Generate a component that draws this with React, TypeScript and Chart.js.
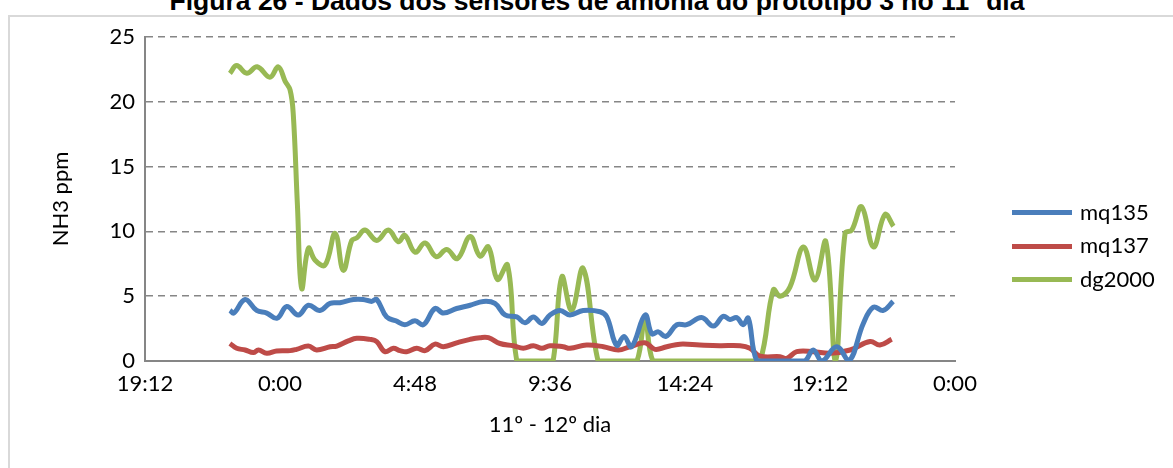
import React, { useEffect, useRef } from "react";
import { Chart, registerables } from "chart.js";

Chart.register(...registerables);

// ---- data (time in hours from 0:00 of day 11; >24 = day 12) ----
const titleText = "Figura 26 - Dados dos sensores de amônia do protótipo 3 no 11º dia";
const xTitle = "11º - 12º dia";
const yTitle = "NH3 ppm";
const xTickValues = [19.2, 24, 28.8, 33.6, 38.4, 43.2, 48];

const seriesNames = ["mq135", "mq137", "dg2000"];
const seriesColors = ["#4a7ebb", "#be4b48", "#98b954"];

const mq135Times = [22.22, 22.36, 22.76, 23.17, 23.53, 23.9, 24.24, 24.65, 25.01, 25.42, 25.78, 26.13, 26.61, 26.96, 27.26, 27.44, 27.79, 28.12, 28.44, 28.8, 29.1, 29.51, 29.81, 30.28, 30.76, 31.23, 31.64, 32.0, 32.42, 32.71, 33.01, 33.31, 33.6, 33.96, 34.31, 34.78, 35.38, 35.62, 35.97, 36.23, 36.5, 36.98, 37.22, 37.45, 37.72, 38.11, 38.46, 38.99, 39.41, 39.76, 40.0, 40.24, 40.47, 40.65, 40.96, 41.42, 41.9, 42.4, 42.67, 42.96, 43.27, 43.79, 44.23, 44.74, 45.1, 45.45, 45.8];
const mq135Values = [3.9, 3.7, 4.75, 3.9, 3.7, 3.3, 4.2, 3.55, 4.3, 3.9, 4.45, 4.5, 4.75, 4.75, 4.6, 4.75, 3.4, 3.1, 2.8, 3.1, 2.8, 4.05, 3.7, 4.05, 4.3, 4.6, 4.45, 3.55, 3.4, 2.95, 3.4, 2.9, 3.55, 3.9, 3.55, 3.9, 3.8, 3.4, 1.2, 1.9, 1.1, 3.55, 2.1, 2.25, 1.9, 2.8, 2.8, 3.35, 2.7, 3.45, 3.2, 3.35, 2.8, 3.3, 0, 0, 0, 0, 0, 0.85, 0, 1.1, 0, 2.9, 4.15, 3.9, 4.6];

const mq137Times = [22.22, 22.46, 22.76, 23.05, 23.23, 23.53, 23.88, 24.36, 24.59, 25.01, 25.3, 25.78, 26.02, 26.43, 26.73, 27.2, 27.44, 27.73, 28.03, 28.27, 28.5, 28.86, 29.16, 29.51, 29.81, 30.28, 30.76, 31.11, 31.41, 31.82, 32.3, 32.65, 33.01, 33.31, 33.6, 34.07, 34.31, 34.9, 35.5, 36.03, 36.44, 36.98, 37.33, 37.75, 38.22, 38.93, 39.64, 40.36, 40.71, 41.07, 41.78, 42.02, 42.37, 42.96, 43.56, 44.27, 44.98, 45.33, 45.75];
const mq137Values = [1.35, 0.98, 0.85, 0.65, 0.85, 0.6, 0.77, 0.8, 0.9, 1.15, 0.85, 1.1, 1.15, 1.55, 1.75, 1.67, 1.5, 0.72, 0.98, 0.8, 0.72, 0.98, 0.8, 1.3, 1.1, 1.4, 1.67, 1.8, 1.8, 1.35, 1.18, 0.98, 1.18, 0.98, 1.18, 1.1, 0.98, 1.23, 1.1, 0.85, 1.1, 1.4, 0.9, 1.1, 1.3, 1.23, 1.18, 1.18, 0.98, 0.38, 0.33, 0.2, 0.72, 0.72, 0.6, 0.85, 1.5, 1.23, 1.67];

const dg2000Times = [22.22, 22.46, 22.82, 23.19, 23.64, 23.94, 24.18, 24.36, 24.47, 24.62, 24.77, 25.01, 25.24, 25.6, 25.96, 26.25, 26.55, 26.73, 27.02, 27.44, 27.85, 28.21, 28.44, 28.8, 29.16, 29.55, 29.93, 30.31, 30.76, 31.11, 31.41, 31.73, 32.09, 32.42, 32.71, 33.0, 33.24, 33.5, 33.71, 34.02, 34.37, 34.78, 35.31, 35.6, 36.0, 36.35, 36.69, 36.98, 37.26, 37.7, 38.2, 38.7, 39.2, 39.7, 40.2, 40.7, 41.07, 41.54, 41.78, 42.13, 42.61, 43.02, 43.41, 43.75, 44.09, 44.33, 44.68, 45.1, 45.51, 45.81];
const dg2000Values = [22.2, 22.8, 22.2, 22.7, 21.9, 22.7, 21.6, 20.9, 19.1, 12.0, 5.6, 8.7, 7.8, 7.4, 9.85, 7.0, 9.3, 9.5, 10.1, 9.3, 10.1, 9.2, 9.7, 8.4, 9.1, 8.05, 8.6, 7.9, 9.6, 8.1, 8.8, 6.3, 7.4, 0, 0, 0, 0, 0, 0, 6.5, 3.9, 7.15, 0, 0, 0, 0, 0, 3.3, 0, 0, 0, 0, 0, 0, 0, 0, 0, 5.5, 5.0, 5.7, 8.8, 6.25, 9.2, 0, 9.85, 10.1, 11.9, 8.8, 11.3, 10.4];

const seriesTimes = [mq135Times, mq137Times, dg2000Times];
const seriesValues = [mq135Values, mq137Values, dg2000Values];

const FONT = "Lato, 'DejaVu Sans', sans-serif";
const FONT_SIZE = 22;
const AXIS_GRAY = "#868686";

function fmtTime(v: number): string {
  const total = Math.round(v * 60) % 1440;
  const h = Math.floor(total / 60);
  const m = total % 60;
  return `${h}:${m < 10 ? "0" : ""}${m}`;
}

export default function App() {
  const ref = useRef<HTMLCanvasElement | null>(null);

  useEffect(() => {
    if (!ref.current) return;
    const font = { family: FONT, size: FONT_SIZE };
    const chart = new Chart(ref.current, {
      type: "line",
      data: {
        datasets: seriesNames.map((name, i) => ({
          label: name,
          data: seriesTimes[i].map((t, j) => ({ x: t, y: seriesValues[i][j] })),
          borderColor: seriesColors[i],
          backgroundColor: seriesColors[i],
          borderWidth: 5,
          pointRadius: 0,
          tension: 0.4,
          fill: false,
        })),
      },
      options: {
        animation: false,
        responsive: false,
        maintainAspectRatio: false,
        layout: { padding: { left: 0, right: 218, top: 37, bottom: 0 } },
        plugins: { legend: { display: false }, tooltip: { enabled: false } },
        scales: {
          x: {
            type: "linear",
            min: 19.2,
            max: 48,
            afterBuildTicks: (s: any) => {
              s.ticks = xTickValues.map((v) => ({ value: v }));
            },
            afterFit: (s: any) => {
              s.height = 107;
            },
            grid: { display: false, drawTicks: false },
            border: { display: true, color: AXIS_GRAY, width: 2 },
            ticks: {
              padding: 10,
              color: "#000",
              font,
              maxRotation: 0,
              autoSkip: false,
              callback: (v: any) => fmtTime(Number(v)),
            },
            title: {
              display: true,
              text: xTitle,
              color: "#000",
              font,
              padding: { top: 0, bottom: 30 },
            },
          },
          y: {
            min: 0,
            max: 25,
            afterFit: (s: any) => {
              s.width = 145;
            },
            grid: { color: AXIS_GRAY, lineWidth: 1.5, drawTicks: false },
            border: { display: true, color: AXIS_GRAY, width: 2, dash: [7, 5] },
            ticks: { stepSize: 5, padding: 10, color: "#000", font },
            title: {
              display: true,
              text: yTitle,
              color: "#000",
              font,
              padding: { top: 48, bottom: 0 },
            },
          },
        },
      },
    } as any);
    return () => chart.destroy();
  }, []);

  const legendRows = [212.5, 246, 279.5];

  return (
    <div
      style={{
        position: "fixed",
        left: 0,
        top: 0,
        width: 1173,
        height: 468,
        background: "#fff",
        overflow: "hidden",
      }}
    >
      <div
        style={{
          position: "absolute",
          left: -3,
          width: 1200,
          top: -12,
          textAlign: "center",
          fontFamily: "'Liberation Sans', Arial, sans-serif",
          fontWeight: "bold",
          fontSize: 26.5,
          lineHeight: "26.5px",
          color: "#000",
          whiteSpace: "nowrap",
        }}
      >
        {titleText}
      </div>
      <div
        style={{
          position: "absolute",
          left: 8,
          top: 15,
          width: 1190,
          height: 480,
          border: "2px solid #d9d9d9",
          boxSizing: "border-box",
        }}
      />
      <canvas
        ref={ref}
        width={1173}
        height={468}
        style={{ position: "absolute", left: 0, top: 0, width: 1173, height: 468 }}
      />
      {seriesNames.map((name, i) => (
        <div key={name}>
          <div
            style={{
              position: "absolute",
              left: 1012,
              top: legendRows[i] - 2.5,
              width: 60,
              height: 5,
              background: seriesColors[i],
            }}
          />
          <div
            style={{
              position: "absolute",
              left: 1080,
              top: legendRows[i] - 14,
              fontFamily: FONT,
              fontSize: FONT_SIZE,
              lineHeight: "26px",
              color: "#000",
              whiteSpace: "nowrap",
            }}
          >
            {name}
          </div>
        </div>
      ))}
    </div>
  );
}
